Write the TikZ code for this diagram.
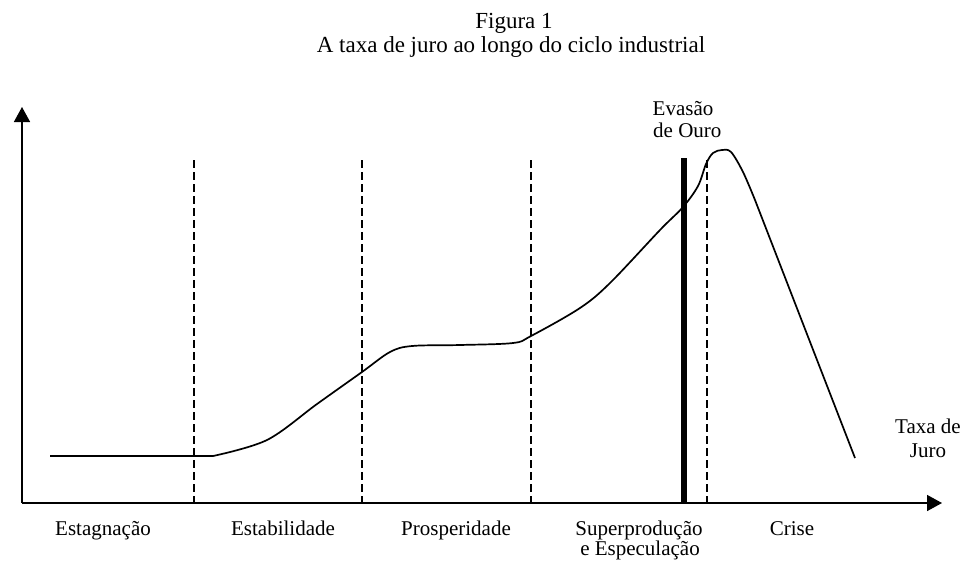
\documentclass[tikz,border=0pt]{standalone}
\usepackage{fontspec}
\setmainfont{Liberation Serif}
\usetikzlibrary{arrows.meta}
\tikzset{
  axis/.style={line width=1.6pt,-{Triangle[length=15pt,width=16pt]}},
  divider/.style={line width=1.5pt,dash pattern=on 8pt off 4pt},
  gold/.style={line width=6pt},
  curve/.style={line width=1.7pt,line join=round},
  lbl/.style={anchor=base,inner sep=0pt,font=\fontsize{21}{22}\selectfont},
  ttl/.style={anchor=base,inner sep=0pt,font=\fontsize{23}{24}\selectfont}
}
\begin{document}
\begin{tikzpicture}[x=1pt,y=-1pt]
\useasboundingbox (0,0) rectangle (965,560);
% titles
\node[ttl] (t1) at (514,28) {Figura 1};
\node[ttl] (t2) at (511,52) {A taxa de juro ao longo do ciclo industrial};
% axes
\coordinate (O) at (22,503);
\coordinate (Ytip) at (22,107);
\coordinate (Xtip) at (942,503);
\draw[axis] (O) -- (Ytip);
\draw[axis] (O) -- (Xtip);
% dividers
\foreach \x/\n in {194/d1,362/d2,531/d3,707/d4}{
  \coordinate (\n top) at (\x,160);
  \coordinate (\n bot) at (\x,503);
  \draw[divider] (\n top) -- (\n bot);
}
% gold outflow bar
\coordinate (gtop) at (684,158);
\coordinate (gbot) at (684,503);
\draw[gold] (gtop) -- (gbot);
% curve
\draw[curve] (50,456) -- (213,456)
  plot[smooth,tension=0.55] coordinates {(213,456) (267,440) (317,404) (362,372) (390,352) (412,346) (460,345) (513,343) (531,336) (580,308) (610,283) (660,230) (683,207) (698,186) (706,164) (713,153) (722,150) (731,152) (743,172) (755,200)}
  -- (855,458);
% labels
\node[lbl] (ev1) at (683,115) {Evasão};
\node[lbl,anchor=base west] (ev2) at (653,137) {de Ouro};
\node[lbl] (tj1) at (928,433) {Taxa de};
\node[lbl] (tj2) at (928,457) {Juro};
\node[lbl] (p1) at (103,535) {Estagnação};
\node[lbl] (p2) at (283,535) {Estabilidade};
\node[lbl] (p3) at (456,535) {Prosperidade};
\node[lbl] (p4a) at (639,535) {Superprodução};
\node[lbl] (p4b) at (640,555) {e Especulação};
\node[lbl] (p5) at (792,535) {Crise};
\end{tikzpicture}
\end{document}
